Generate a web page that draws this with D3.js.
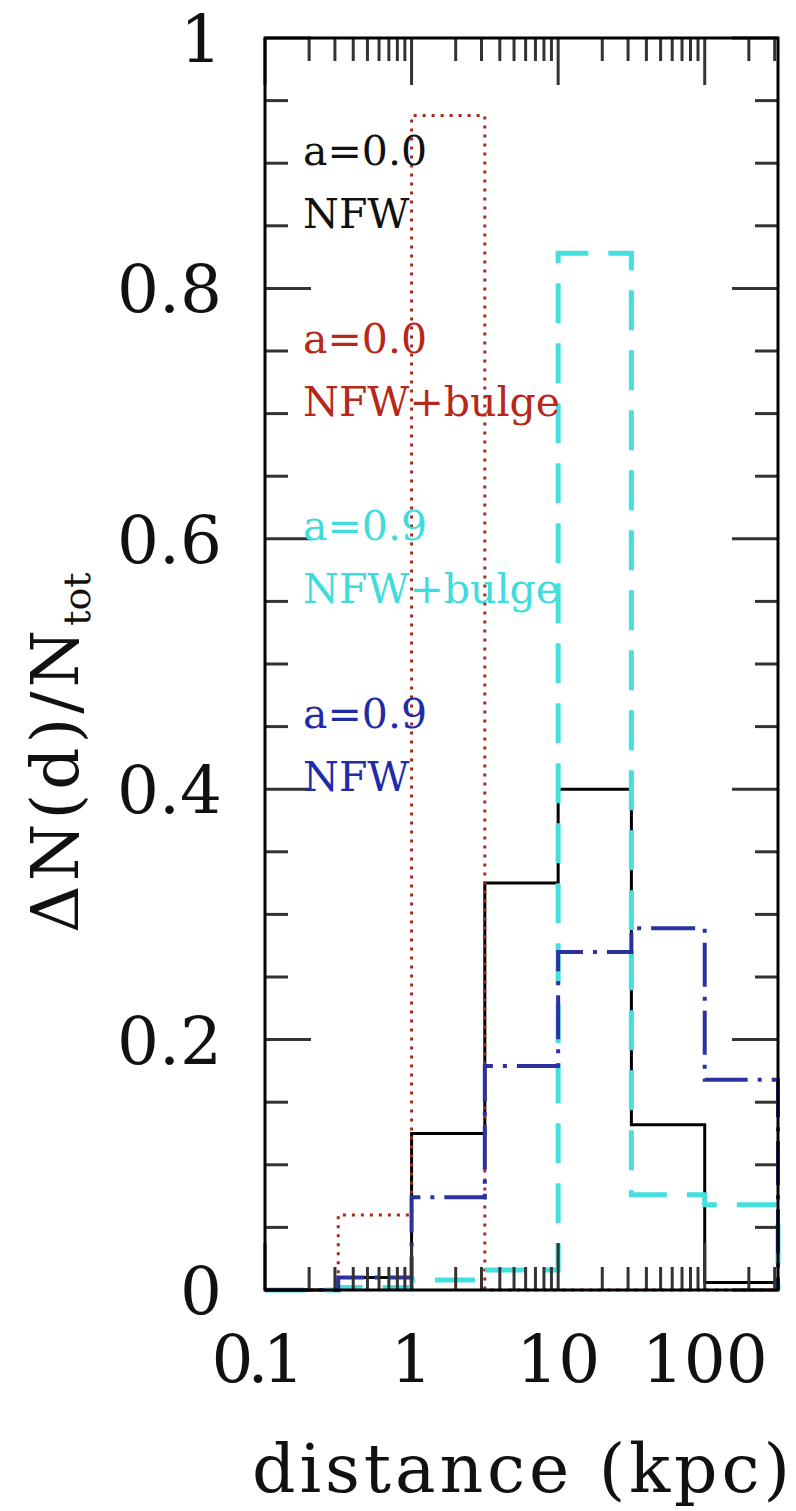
<!DOCTYPE html>
<html>
<head>
<meta charset="utf-8">
<script src="https://cdn.jsdelivr.net/npm/d3@7"></script>
<style>
  html, body { margin: 0; padding: 0; background: #fff; }
  svg { display: block; }
  text { font-family: "DejaVu Serif", "Liberation Serif", serif; }
</style>
</head>
<body>
<svg id="chart" width="796" height="1511"></svg>
<script>
// ---- data ----
const binEdges = [0.1, 0.316, 1, 3.16, 10, 31.6, 100, 316.2];
const blackNFW      = [0.0, 0.010, 0.125, 0.325, 0.400, 0.132, 0.006]; // a=0.0 NFW
const redBulge      = [0.0, 0.060, 0.938, 0.0, 0.0, 0.0, 0.0];          // a=0.0 NFW+bulge
const cyanBulge     = [0.0, 0.002, 0.008, 0.016, 0.828, 0.076, 0.068];  // a=0.9 NFW+bulge
const blueNFW       = [0.0, 0.010, 0.074, 0.179, 0.270, 0.289, 0.168];  // a=0.9 NFW
const xTickValues = [0.1, 1, 10, 100];
const xTickLabels = ["0.1", "1", "10", "100"];
const yTickValues = [0, 0.2, 0.4, 0.6, 0.8, 1];
const yTickLabels = ["0", "0.2", "0.4", "0.6", "0.8", "1"];
const legendLines = [
  ["a=0.0", "NFW"],
  ["a=0.0", "NFW+bulge"],
  ["a=0.9", "NFW+bulge"],
  ["a=0.9", "NFW"]
];
const legendColors = ["#111111", "#b8281a", "#3edcdc", "#1f2ca8"];

// ---- layout ----
const svg = d3.select("#chart");
const L = 265, R = 778, T = 38, B = 1290;
const x = d3.scaleLog().domain([0.1, 316.2]).range([L, R]);
const y = d3.scaleLinear().domain([0, 1]).range([B, T]);

// histograms
function stepPoints(vals) {
  const pts = [[binEdges[0], 0]];
  vals.forEach((v, i) => { pts.push([binEdges[i], v]); pts.push([binEdges[i + 1], v]); });
  pts.push([binEdges[binEdges.length - 1], 0]);
  return pts;
}
const line = d3.line().x(d => x(d[0])).y(d => y(d[1]));
const series = [
  { vals: blackNFW,  color: "#000000", w: 3,   dash: null },
  { vals: redBulge,  color: "#a52a1c", w: 3,   dash: "3,6" },
  { vals: cyanBulge, color: "#44e0e0", w: 5,   dash: "40,20" },
  { vals: blueNFW,   color: "#2a32a0", w: 4,   dash: "44,10,4,10" }
];
const plot = svg.append("g");
series.forEach(s => {
  plot.append("path")
    .attr("d", line(stepPoints(s.vals)))
    .attr("fill", "none")
    .attr("stroke", s.color)
    .attr("stroke-width", s.w)
    .attr("stroke-dasharray", s.dash)
    .attr("stroke-linejoin", "miter");
});

// ticks (both sides)
const tickColor = "#333";
const minorX = [];
[0.1, 1, 10, 100].forEach(d => { for (let k = 2; k <= 9; k++) { const v = d * k; if (v < 316) minorX.push(v); } });
const minorY = d3.range(0, 1.0001, 0.05).filter(v => Math.abs(v * 5 - Math.round(v * 5)) > 1e-6);

const axG = svg.append("g").attr("stroke", tickColor).attr("stroke-width", 3);
xTickValues.forEach(v => {
  axG.append("line").attr("x1", x(v)).attr("x2", x(v)).attr("y1", B).attr("y2", B - 47);
  axG.append("line").attr("x1", x(v)).attr("x2", x(v)).attr("y1", T).attr("y2", T + 47);
});
minorX.forEach(v => {
  axG.append("line").attr("x1", x(v)).attr("x2", x(v)).attr("y1", B).attr("y2", B - 23);
  axG.append("line").attr("x1", x(v)).attr("x2", x(v)).attr("y1", T).attr("y2", T + 23);
});
yTickValues.forEach(v => {
  axG.append("line").attr("x1", L).attr("x2", L + 46).attr("y1", y(v)).attr("y2", y(v));
  axG.append("line").attr("x1", R).attr("x2", R - 46).attr("y1", y(v)).attr("y2", y(v));
});
minorY.forEach(v => {
  axG.append("line").attr("x1", L).attr("x2", L + 23).attr("y1", y(v)).attr("y2", y(v));
  axG.append("line").attr("x1", R).attr("x2", R - 23).attr("y1", y(v)).attr("y2", y(v));
});

// frame
svg.append("rect").attr("x", L).attr("y", T).attr("width", R - L).attr("height", B - T)
  .attr("fill", "none").attr("stroke", "#000").attr("stroke-width", 3);

// tick labels
svg.append("g").selectAll("text").data(xTickValues).join("text")
  .attr("x", d => x(d) - (d < 1 ? 10 : 0)).attr("y", 1382)
  .attr("text-anchor", "middle").attr("font-size", 66).attr("fill", "#111")
  .attr("letter-spacing", d => d < 1 ? -6 : 0)
  .text((d, i) => xTickLabels[i]);
svg.append("g").selectAll("text").data(yTickValues).join("text")
  .attr("x", 222).attr("y", d => y(d) + 24)
  .attr("text-anchor", "end").attr("font-size", 66).attr("fill", "#111")
  .text((d, i) => yTickLabels[i]);

// axis titles
svg.append("text").attr("x", 252).attr("y", 1492)
  .attr("font-size", 68).attr("fill", "#111")
  .attr("textLength", 538).attr("lengthAdjust", "spacing")
  .text("distance (kpc)");

const yt = svg.append("text").attr("transform", "translate(78,933) rotate(-90)")
  .attr("font-size", 66).attr("fill", "#111");
yt.append("tspan").attr("letter-spacing", 4).text("ΔN(d)/N");
yt.append("tspan").attr("font-size", 38).attr("dy", 12).text("tot");

// legend text
legendLines.forEach((pair, i) => {
  const base = 165 + i * 187.5;
  pair.forEach((t, j) => {
    svg.append("text").attr("x", 303).attr("y", base + j * 63)
      .attr("font-size", 41).attr("fill", legendColors[i]).text(t);
  });
});
</script>
</body>
</html>
